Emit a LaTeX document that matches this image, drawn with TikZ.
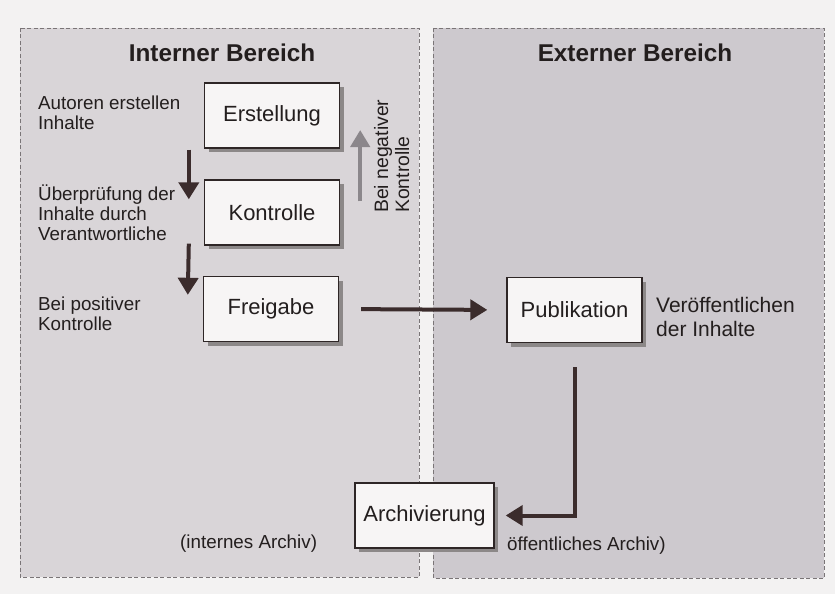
\documentclass[tikz,border=0pt]{standalone}
\usepackage{fontspec}
\setmainfont{Liberation Sans}
\usetikzlibrary{arrows.meta,shadows}

\definecolor{pagegray}{HTML}{F3F2F2}
\definecolor{leftgray}{HTML}{D9D5D8}
\definecolor{rightgray}{HTML}{CDC9CE}
\definecolor{dashgray}{HTML}{7A7577}
\definecolor{boxline}{HTML}{2E2626}
\definecolor{boxfill}{HTML}{F7F5F5}
\definecolor{shadowgray}{HTML}{8C8888}
\definecolor{arrowink}{HTML}{3B2C2C}
\definecolor{backink}{HTML}{8B878B}
\definecolor{ink}{HTML}{231E1E}

\begin{document}
\begin{tikzpicture}[x=1pt,y=-1pt,
    panel/.style={draw=dashgray, line width=0.9pt, dash pattern=on 4pt off 2.5pt},
    title/.style={font=\bfseries\fontsize{24.3}{28}\selectfont, text=ink, inner sep=0pt},
    stage/.style={draw=boxline, line width=1.4pt, fill=boxfill, text=ink,
        minimum width=135pt, minimum height=65pt, inner sep=0pt,
        font=\fontsize{22}{26}\selectfont,
        drop shadow={shadow xshift=4pt, shadow yshift=-4pt, fill=shadowgray, opacity=1}},
    note/.style={font=\fontsize{18.8}{20}\selectfont, text=ink, align=left, inner sep=0pt},
    flow/.style={draw=arrowink, line width=4pt, -{Triangle[length=17pt,width=20pt]}},
    backflow/.style={draw=backink, line width=4.5pt, -{Triangle[length=17pt,width=19pt]}},
  ]
    \fill[pagegray] (0,0) rectangle (835,594);
    \useasboundingbox (0,0) rectangle (835,594);

    % the two areas
    \draw[panel, fill=leftgray] (20,28) rectangle (419,577);
    \draw[panel, fill=rightgray] (433,28) rectangle (824,578);
    \node[title, anchor=base] (intern) at (222,62) {Interner Bereich};
    \node[title, anchor=base] (extern) at (635,62) {Externer Bereich};

    % steps
    \node[stage] (erst) at (272,115.5) {Erstellung};
    \node[stage] (kont) at (272,212.5) {Kontrolle};
    \node[stage] (frei) at (271,309) {Freigabe};
    \node[stage] (pub) at (574.5,310) {Publikation};
    \node[stage, minimum width=139pt] (arch) at (424.5,515.5) {Archivierung};

    % notes (base = last line)
    \node[note, anchor=base west] (autoren) at (38,129) {Autoren erstellen\\Inhalte};
    \node[note, anchor=base west] (pruef) at (38,240) {Überprüfung der\\Inhalte durch\\Verantwortliche};
    \node[note, anchor=base west] (positiv) at (38,330) {Bei positiver\\Kontrolle};
    \node[note, anchor=base west, rotate=90, font=\fontsize{19.4}{21}\selectfont] (negativ) at (409,213) {Bei negativer\\Kontrolle};
    \node[note, anchor=base west, font=\fontsize{21}{24.5}\selectfont] (veroeff) at (656,336.5) {Veröffentlichen\\der Inhalte};
    \node[note, anchor=base west] (intarch) at (180,548) {(internes Archiv)};
    \node[note, anchor=base west] (oeffarch) at (507,550) {öffentliches Archiv)};

    % arrows
    \draw[flow] ([xshift=-15pt,yshift=-1pt]erst.south west) -- ([xshift=-15pt,yshift=-20pt]kont.north west);
    \draw[flow] ([xshift=-15pt,yshift=2pt]kont.south west) -- ([xshift=-15pt,yshift=-19pt]frei.north west);
    \draw[backflow] ([xshift=20pt,yshift=-22pt]kont.north east) -- ([xshift=20pt,yshift=-14.5pt]erst.east);
    \draw[flow, shorten <=22pt, shorten >=19pt] (frei.east) -- (pub.west);
    \draw[flow, shorten <=24pt, shorten >=11pt] (pub.south) |- (arch.east);
\end{tikzpicture}
\end{document}
